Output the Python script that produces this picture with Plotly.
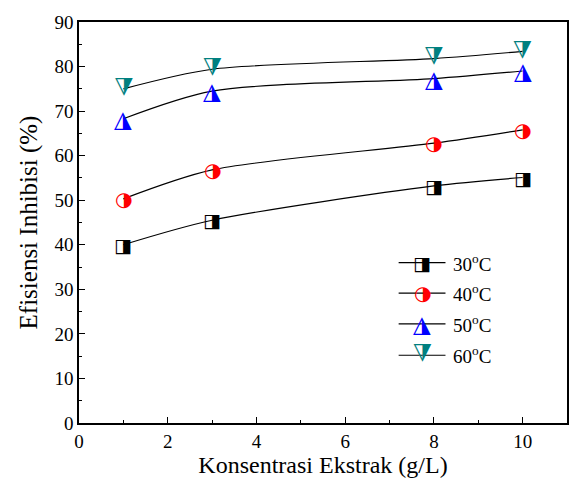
import plotly.graph_objects as go

conc = [1, 3, 8, 10]
eff_30 = [40.0, 45.5, 53.2, 55.1]
eff_40 = [50.3, 56.8, 62.8, 65.8]
eff_50 = [68.3, 74.5, 77.3, 79.0]
eff_60 = [75.0, 79.4, 81.8, 83.4]
series_labels = ["30<sup>o</sup>C", "40<sup>o</sup>C", "50<sup>o</sup>C", "60<sup>o</sup>C"]
x_ticks = [0, 2, 4, 6, 8, 10]
y_ticks = [0, 10, 20, 30, 40, 50, 60, 70, 80, 90]

series = [eff_30, eff_40, eff_50, eff_60]
colors = ["#000000", "#ff0000", "#0000ff", "#008080"]
glyphs = ["◨", "◑", "◮", "◭"]
rotate = [0, 0, 0, 180]
gsize = [19, 20, 23, 23]

GF = "DejaVu Sans"
SERIF = "Liberation Serif, Times New Roman, Times, serif"
fig = go.Figure()

for s in series:
    fig.add_trace(go.Scatter(x=conc, y=s, mode="lines", line=dict(color="black", width=1.2, shape="spline", smoothing=0.8),
                             showlegend=False, hoverinfo="skip"))

annotations = []
for s, c, g, r, gs in zip(series, colors, glyphs, rotate, gsize):
    for xv, yv in zip(conc, s):
        annotations.append(dict(x=xv, y=yv, xref="x", yref="y", text=g, showarrow=False,
                                font=dict(family=GF, size=gs, color=c), textangle=r,
                                xanchor="center", yanchor="middle"))

# manual legend
leg_y = [0.400, 0.324, 0.247, 0.169]
shapes = []
for ly, c, g, r, gs, lab in zip(leg_y, colors, glyphs, rotate, gsize, series_labels):
    shapes.append(dict(type="line", xref="paper", yref="paper", x0=0.655, x1=0.751, y0=ly, y1=ly,
                       line=dict(color="black", width=1.2), layer="below"))
    annotations.append(dict(x=0.703, y=ly, xref="paper", yref="paper", text=g, showarrow=False,
                            font=dict(family=GF, size=gs, color=c), textangle=r,
                            xanchor="center", yanchor="middle"))
    annotations.append(dict(x=0.763, y=ly, xref="paper", yref="paper", text=lab, showarrow=False,
                            font=dict(family=SERIF, size=19, color="black"),
                            xanchor="left", yanchor="middle"))

axis_common = dict(showline=True, linecolor="black", linewidth=1.5, mirror=True, ticks="inside",
                   ticklen=6, tickwidth=1.2, tickcolor="black", showgrid=False, zeroline=False,
                   tickfont=dict(family=SERIF, size=19, color="black"))

fig.update_layout(
    width=569, height=483,
    margin=dict(l=79, r=0, t=22, b=60),
    paper_bgcolor="white", plot_bgcolor="white",
    font=dict(family=SERIF),
    xaxis=dict(range=[0, 11], tickvals=x_ticks, title=dict(text="Konsentrasi Ekstrak (g/L)", standoff=6,
               font=dict(family=SERIF, size=24, color="black")),
               minor=dict(dtick=1, ticks="inside", ticklen=3, tickcolor="black"), **axis_common),
    yaxis=dict(range=[0, 90], tickvals=y_ticks, title=dict(text="Efisiensi Inhibisi (%)", standoff=10,
               font=dict(family=SERIF, size=25, color="black")),
               minor=dict(dtick=5, ticks="inside", ticklen=3, tickcolor="black"), **axis_common),
    annotations=annotations, shapes=shapes,
    showlegend=False,
)

fig.write_html("out.html")
